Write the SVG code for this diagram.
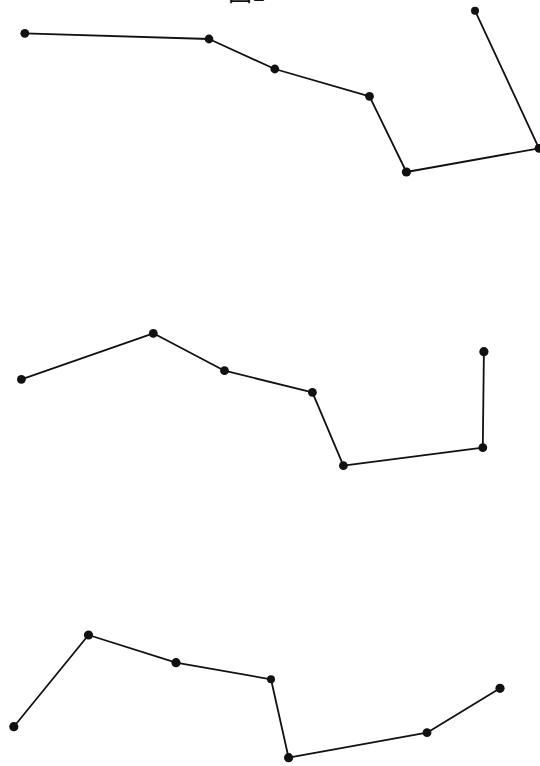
<svg xmlns="http://www.w3.org/2000/svg" width="540" height="766" viewBox="0 0 540 766">
<style>
.l{fill:none;stroke:#111;stroke-width:1.8;stroke-linejoin:round}
.d{fill:#111}
.t{font-family:"Noto Sans CJK JP","Noto Sans CJK SC",sans-serif;font-size:24px;fill:#111}
</style>
<rect width="540" height="766" fill="#fff"/>
<text class="t" x="228" y="1">図1</text>
<g id="connectors">
<polyline class="l" points="24.8,33.3 209,39 274.8,69 369.5,96.3 406.4,172 539,148.3 475,10.7"/>
<polyline class="l" points="21.4,379.3 153.3,333.3 224.5,370.7 312.4,392.3 343.4,465.7 482.8,447.7 483.9,351.7"/>
<polyline class="l" points="13.8,726.7 88.5,635 176,662.7 271,679.3 288.6,757.7 427,732.7 500,688.3"/>
</g>
<g id="a1"><circle class="d" cx="24.8" cy="33.3" r="4.4"/></g>
<g id="a2"><circle class="d" cx="209" cy="39" r="4.4"/></g>
<g id="a3"><circle class="d" cx="274.8" cy="69" r="4.4"/></g>
<g id="a4"><circle class="d" cx="369.5" cy="96.3" r="4.4"/></g>
<g id="a5"><circle class="d" cx="406.4" cy="172" r="4.6"/></g>
<g id="a6"><circle class="d" cx="539" cy="148.3" r="4.4"/></g>
<g id="a7"><circle class="d" cx="475" cy="10.7" r="4"/></g>
<g id="b1"><circle class="d" cx="21.4" cy="379.3" r="4.4"/></g>
<g id="b2"><circle class="d" cx="153.3" cy="333.3" r="4.4"/></g>
<g id="b3"><circle class="d" cx="224.5" cy="370.7" r="4.4"/></g>
<g id="b4"><circle class="d" cx="312.4" cy="392.3" r="4.4"/></g>
<g id="b5"><circle class="d" cx="343.4" cy="465.7" r="4.4"/></g>
<g id="b6"><circle class="d" cx="482.8" cy="447.7" r="4.4"/></g>
<g id="b7"><circle class="d" cx="483.9" cy="351.7" r="4.6"/></g>
<g id="c1"><circle class="d" cx="13.8" cy="726.7" r="4.6"/></g>
<g id="c2"><circle class="d" cx="88.5" cy="635" r="4.6"/></g>
<g id="c3"><circle class="d" cx="176" cy="662.7" r="4.6"/></g>
<g id="c4"><circle class="d" cx="271" cy="679.3" r="4"/></g>
<g id="c5"><circle class="d" cx="288.6" cy="757.7" r="4.6"/></g>
<g id="c6"><circle class="d" cx="427" cy="732.7" r="4.4"/></g>
<g id="c7"><circle class="d" cx="500" cy="688.3" r="4.6"/></g>
</svg>
